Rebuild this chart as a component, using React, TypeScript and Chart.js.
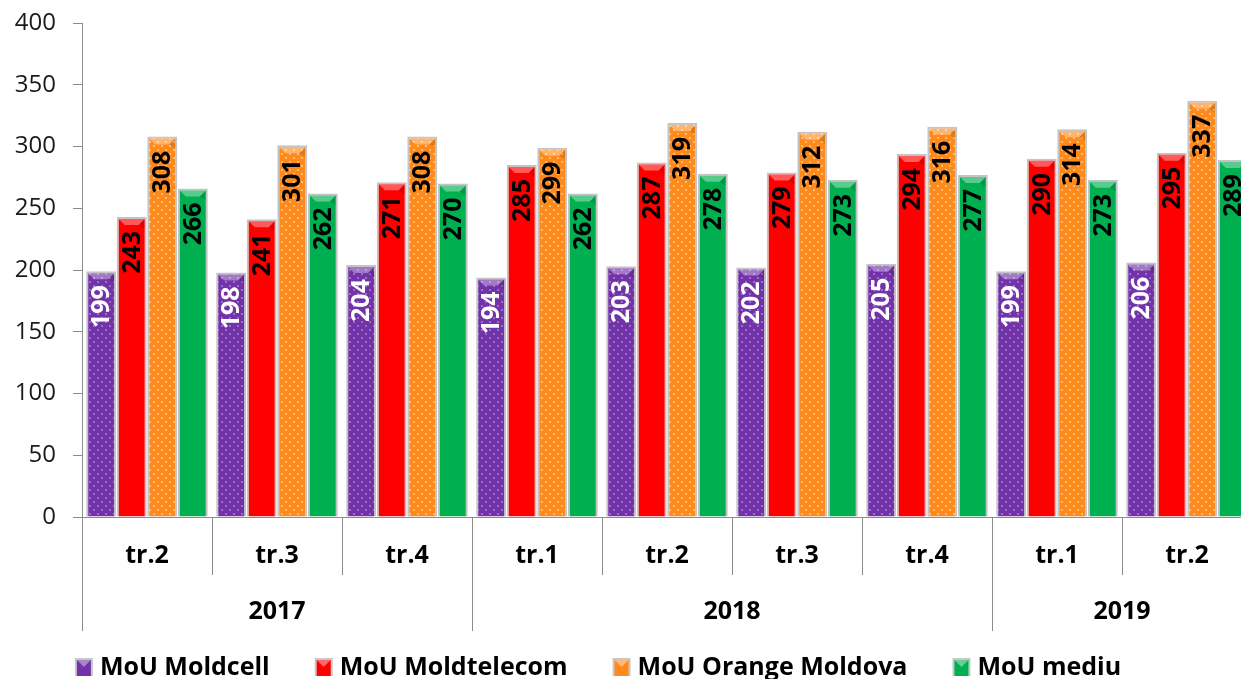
import React, { useEffect, useRef } from "react";
import { Chart, registerables } from "chart.js";

Chart.register(...registerables);

const quarters = ["tr.2", "tr.3", "tr.4", "tr.1", "tr.2", "tr.3", "tr.4", "tr.1", "tr.2"];
const years = ["2017", "2018", "2019"];
const yearSpans = [3, 4, 2];

const moldcell = [199, 198, 204, 194, 203, 202, 205, 199, 206];
const moldtelecom = [243, 241, 271, 285, 287, 279, 294, 290, 295];
const orange = [308, 301, 308, 299, 319, 312, 316, 314, 337];
const mediu = [266, 262, 270, 262, 278, 273, 277, 273, 289];

const seriesNames = ["MoU Moldcell", "MoU Moldtelecom", "MoU Orange Moldova", "MoU mediu"];
const seriesValues = [moldcell, moldtelecom, orange, mediu];
const seriesColors = ["#7232a8", "#ff0000", "#ff8a1c", "#00b050"];
const dotColors: (string | null)[] = ["#9a6ccb", null, "#ffbb78", null];
const labelColors = ["#ffffff", "#000000", "#000000", "#000000"];

const FONT = "'Open Sans', 'Noto Sans', sans-serif";

function makeFill(base: string, dot: string | null): string | CanvasPattern {
  if (!dot) return base;
  const c = document.createElement("canvas");
  c.width = 8;
  c.height = 8;
  const g = c.getContext("2d")!;
  g.fillStyle = base;
  g.fillRect(0, 0, 8, 8);
  g.fillStyle = dot;
  g.fillRect(1, 1, 2, 2);
  g.fillRect(5, 5, 2, 2);
  const p = g.createPattern(c, "repeat");
  return p || base;
}

const decorPlugin = {
  id: "decor",
  afterDatasetsDraw(chart: any) {
    const ctx = chart.ctx as CanvasRenderingContext2D;
    const area = chart.chartArea;
    const xs = chart.scales.x;
    // bevels and value labels
    chart.data.datasets.forEach((ds: any, di: number) => {
      const meta = chart.getDatasetMeta(di);
      meta.data.forEach((el: any, i: number) => {
        const { x, y, width } = el.getProps(["x", "y", "width"], true);
        const l = x - width / 2 + 2;
        const r = x + width / 2 - 2;
        const t = y + 2;
        const b = 6;
        ctx.save();
        ctx.fillStyle = "rgba(255,255,255,0.35)";
        ctx.beginPath();
        ctx.moveTo(l, t);
        ctx.lineTo(r, t);
        ctx.lineTo(r - b, t + b);
        ctx.lineTo(l + b, t + b);
        ctx.closePath();
        ctx.fill();
        ctx.fillStyle = "rgba(0,0,0,0.12)";
        ctx.beginPath();
        ctx.moveTo(r, t);
        ctx.lineTo(r, t + b + 4);
        ctx.lineTo(r - b, t + b);
        ctx.closePath();
        ctx.fill();
        ctx.restore();

        ctx.save();
        ctx.translate(x, y + 14);
        ctx.rotate(-Math.PI / 2);
        ctx.font = `bold 25px ${FONT}`;
        ctx.textAlign = "right";
        ctx.textBaseline = "middle";
        ctx.fillStyle = labelColors[di];
        ctx.fillText(String(ds.data[i]), 0, 1);
        ctx.restore();
      });
    });

    // x axis line, separators, labels
    const n = quarters.length;
    const cw = (xs.getPixelForValue(1) - xs.getPixelForValue(0));
    const baseY = area.bottom;
    ctx.save();
    ctx.strokeStyle = "#8c8c8c";
    ctx.lineWidth = 1;
    ctx.beginPath();
    ctx.moveTo(area.left, baseY + 0.5);
    ctx.lineTo(area.right, baseY + 0.5);
    ctx.stroke();

    const yearBounds = new Set<number>();
    let acc = 0;
    yearBounds.add(0);
    yearSpans.forEach((s) => {
      acc += s;
      yearBounds.add(acc);
    });
    for (let i = 0; i <= n; i++) {
      const bx = Math.round(xs.getPixelForValue(0) - cw / 2 + i * cw) + 0.5;
      const endY = yearBounds.has(i) ? baseY + 114 : baseY + 58;
      ctx.beginPath();
      ctx.moveTo(bx, baseY);
      ctx.lineTo(bx, endY);
      ctx.stroke();
    }

    ctx.fillStyle = "#000";
    ctx.font = `bold 25px ${FONT}`;
    ctx.textAlign = "center";
    ctx.textBaseline = "middle";
    quarters.forEach((q, i) => {
      ctx.fillText(q, xs.getPixelForValue(i), baseY + 39);
    });
    let start = 0;
    years.forEach((yr, k) => {
      const s = yearSpans[k];
      const cx = (xs.getPixelForValue(start) + xs.getPixelForValue(start + s - 1)) / 2;
      ctx.fillText(yr, cx, baseY + 95);
      start += s;
    });

    // legend
    ctx.font = `bold 25px ${FONT}`;
    const box = 18;
    const gapBT = 7;
    const gapItem = 45;
    const widths = seriesNames.map((s) => ctx.measureText(s).width);
    const total = widths.reduce((a, w) => a + box + gapBT + w, 0) + gapItem * (seriesNames.length - 1);
    let lx = 598 - total / 2;
    const ly = 667;
    ctx.textAlign = "left";
    seriesNames.forEach((name, k) => {
      const bx = lx;
      const by = ly - box / 2;
      ctx.fillStyle = "#c8c8c8";
      ctx.fillRect(bx, by, box, box);
      ctx.fillStyle = seriesColors[k];
      ctx.fillRect(bx + 2, by + 2, box - 4, box - 2);
      ctx.fillStyle = "rgba(255,255,255,0.4)";
      ctx.beginPath();
      ctx.moveTo(bx + 2, by + 2);
      ctx.lineTo(bx + box - 2, by + 2);
      ctx.lineTo(bx + box / 2, by + box / 2);
      ctx.closePath();
      ctx.fill();
      ctx.fillStyle = "#000";
      ctx.fillText(name, bx + box + gapBT, ly + 1);
      lx += box + gapBT + widths[k] + gapItem;
    });
    ctx.restore();
  },
};

export default function App() {
  const ref = useRef<HTMLCanvasElement | null>(null);
  useEffect(() => {
    if (!ref.current) return;
    const chart = new Chart(ref.current, {
      type: "bar",
      data: {
        labels: quarters,
        datasets: seriesNames.map((name, k) => ({
          label: name,
          data: seriesValues[k],
          backgroundColor: makeFill(seriesColors[k], dotColors[k]) as any,
          borderColor: "#c4c4c4",
          borderWidth: { left: 2, right: 2, top: 2, bottom: 0 },
          borderSkipped: "start",
          categoryPercentage: 0.94,
          barPercentage: 0.98,
        })),
      },
      options: {
        responsive: false,
        animation: false,
        layout: { padding: { left: 0, right: 4, top: 23, bottom: 162 } },
        plugins: {
          legend: { display: false },
          tooltip: { enabled: false },
        },
        scales: {
          x: { display: false },
          y: {
            min: 0,
            max: 400,
            ticks: {
              stepSize: 50,
              color: "#1a1a1a",
              font: { family: FONT, size: 24 },
              padding: 17,
            },
            grid: { drawOnChartArea: false, drawTicks: true, tickLength: 9, color: "#8c8c8c" },
            border: { display: true, color: "#8c8c8c" },
            afterFit: (s: any) => {
              s.width = 82;
              s.paddingTop = 0;
              s.paddingBottom = 0;
            },
          },
        },
      },
      plugins: [decorPlugin],
    });
    return () => chart.destroy();
  }, []);
  return (
    <div style={{ position: "fixed", left: 0, top: 0, width: 1241, height: 679, overflow: "hidden", background: "#fff" }}>
      <canvas ref={ref} width={1256} height={679} style={{ width: 1256, height: 679, display: "block" }} />
    </div>
  );
}
